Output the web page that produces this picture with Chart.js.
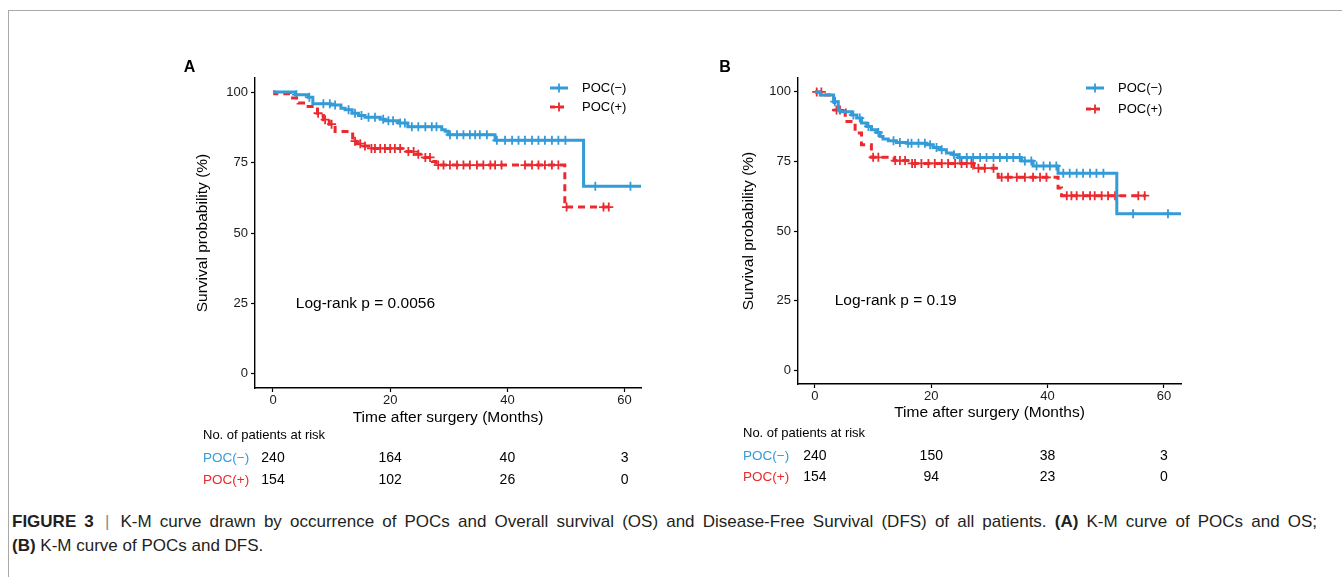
<!DOCTYPE html>
<html>
<head>
<meta charset="utf-8">
<script src="https://cdn.jsdelivr.net/npm/chart.js@4.4.0/dist/chart.umd.min.js"></script>
<style>
  html, body { margin: 0; padding: 0; background: #fff; }
  body { width: 1342px; height: 577px; position: relative; overflow: hidden; font-family: "Liberation Sans", Arial, sans-serif; }
  .frame { position: absolute; left: 8px; top: 10px; right: 0; bottom: 0; border-top: 1px solid #a9a9a9; border-left: 1px solid #a9a9a9; }
  .panel { position: absolute; top: 50px; width: 480px; height: 450px; }
  #pa { left: 170px; }
  #pb { left: 715px; }
  .caption { position: absolute; left: 12px; top: 510px; width: 1305px; font-size: 17px; line-height: 24px; color: #231f20; white-space: nowrap; }
  .caption .l1 { text-align: justify; text-align-last: justify; }
  .caption .bar { color: #8a8a8a; margin: 0 3px; }
</style>
</head>
<body>
<div class="frame"></div>
<div class="panel" id="pa"><canvas id="chartA" width="480" height="450"></canvas></div>
<div class="panel" id="pb"><canvas id="chartB" width="480" height="450"></canvas></div>
<div class="caption">
  <div class="l1"><b>FIGURE 3</b> <span class="bar">|</span> K-M curve drawn by occurrence of POCs and Overall survival (OS) and Disease-Free Survival (DFS) of all patients. <b>(A)</b> K-M curve of POCs and OS;</div>
  <div><b>(B)</b> K-M curve of POCs and DFS.</div>
</div>
<script>
// ---- data ----
const groupNames = ['POC(\u2212)', 'POC(+)'];
const xTicks = [0, 20, 40, 60];
const yTicks = [0, 25, 50, 75, 100];
const riskTimes = [0, 20, 40, 60];

// panel A: overall survival
const osNegTime = [0, 3.8, 6.0, 6.8, 9.8, 11.6, 12.3, 13.5, 14.6, 15.7, 18.3, 19.1, 21.4, 23.0, 28.8, 29.4, 29.9, 37.9, 53.0, 63];
const osNegSurv = [100, 99.1, 98.2, 95.9, 95.4, 94.3, 93.7, 92.5, 91.7, 91.1, 90.4, 89.8, 89.0, 87.7, 86.6, 86.1, 84.9, 82.9, 66.6, 66.6];
const osNegCensor = [4.0, 6.2, 8.6, 9.7, 10.6, 12.9, 14.0, 15.1, 16.3, 17.4, 18.8, 19.7, 20.5, 21.7, 22.5, 23.7, 24.8, 26.0, 27.1, 27.9, 30.2, 31.4, 32.5, 33.6, 34.5, 35.3, 36.5, 38.2, 39.6, 40.8, 41.9, 43.0, 44.2, 45.3, 46.4, 47.6, 48.7, 49.9, 55.0, 61.0];
const osPosTime = [0, 0.3, 2.9, 4.3, 6.0, 7.6, 8.0, 8.6, 9.6, 10.6, 13.6, 14.2, 15.5, 16.6, 22.4, 24.4, 25.8, 27.2, 27.8, 49.8, 57.3];
const osPosSurv = [100, 99.4, 97.9, 96.1, 94.9, 92.5, 91.7, 90.2, 88.6, 86.0, 82.6, 81.7, 80.9, 80.0, 78.9, 77.9, 76.8, 75.4, 74.1, 59.2, 59.2];
const osPosCensor = [7.7, 8.9, 10.0, 14.0, 14.9, 15.7, 16.8, 17.4, 18.3, 19.1, 20.0, 20.8, 21.7, 23.1, 24.0, 24.8, 26.0, 26.8, 28.2, 29.1, 30.2, 31.4, 32.5, 33.6, 34.8, 35.9, 37.1, 37.9, 39.0, 43.0, 44.2, 45.3, 46.4, 47.6, 48.7, 50.1, 56.4, 57.3];
const osRiskNeg = [240, 164, 40, 3];
const osRiskPos = [154, 102, 26, 0];
const osPText = 'Log-rank p = 0.0056';

// panel B: disease-free survival
const dfsNegTime = [0, 0.9, 3.2, 4.0, 4.3, 6.3, 7.2, 8.0, 8.9, 9.7, 10.6, 11.2, 11.7, 12.6, 14.0, 15.8, 19.2, 20.3, 21.5, 22.6, 23.8, 24.6, 35.5, 37.5, 41.8, 51.9, 63];
const dfsNegSurv = [100, 98.9, 96.5, 93.5, 92.9, 91.7, 90.6, 88.8, 87.6, 86.4, 85.4, 84.0, 83.1, 82.4, 81.8, 81.5, 81.0, 80.0, 79.2, 78.0, 77.4, 76.4, 75.2, 73.4, 70.8, 56.2, 56.2];
const dfsNegCensor = [3.4, 6.6, 7.7, 9.2, 10.9, 13.5, 14.6, 16.0, 16.6, 17.8, 18.9, 19.8, 20.9, 21.8, 23.9, 24.9, 26.1, 27.2, 28.4, 29.5, 30.7, 31.8, 33.0, 34.1, 35.2, 36.1, 37.2, 38.1, 39.3, 40.4, 41.5, 42.7, 43.8, 45.0, 46.1, 47.3, 48.4, 49.6, 54.7, 60.7];
const dfsPosTime = [0, 1.7, 3.3, 5.2, 6.9, 8.0, 9.7, 13.6, 16.5, 27.3, 31.5, 41.8, 42.4, 56.9];
const dfsPosSurv = [100, 98.9, 93.5, 89.4, 85.2, 81.0, 76.5, 75.3, 74.3, 72.6, 69.3, 65.5, 62.7, 62.7];
const dfsPosCensor = [0.3, 1.1, 3.7, 4.3, 10.0, 10.9, 13.8, 14.6, 15.5, 16.7, 17.2, 18.3, 19.5, 20.6, 21.8, 22.9, 24.1, 25.2, 26.1, 26.9, 28.1, 29.2, 30.7, 32.1, 33.2, 34.7, 36.1, 37.5, 38.7, 39.8, 43.3, 44.1, 45.0, 46.1, 47.3, 48.1, 49.3, 50.4, 51.6, 55.6, 56.7];
const dfsRiskNeg = [240, 150, 38, 3];
const dfsRiskPos = [154, 94, 23, 0];
const dfsPText = 'Log-rank p = 0.19';

const BLUE = '#349bd9';
const RED = '#ea2a2f';
const FONT = '"Liberation Sans", Arial, sans-serif';
Chart.defaults.font.family = FONT;
Chart.defaults.color = '#1a1a1a';

// value of the step curve at time t
function survAt(times, surv, t) {
  let v = surv[0];
  for (let i = 0; i < times.length; i++) {
    if (times[i] <= t) v = surv[i];
  }
  return v;
}

const kmExtras = {
  id: 'kmExtras',
  afterDraw(chart, args, o) {
    const { ctx, chartArea: ca, scales: { x, y } } = chart;
    ctx.save();
    ctx.fillStyle = '#000';
    ctx.textBaseline = 'middle';
    // panel letter
    ctx.font = 'bold 16px ' + FONT;
    ctx.textAlign = 'center';
    ctx.fillText(o.letter, ca.left + o.letterDx, ca.top + o.letterDy);
    // p value
    ctx.font = '15.5px ' + FONT;
    ctx.textAlign = 'left';
    ctx.fillText(o.pText, x.getPixelForValue(o.pAt[0]), y.getPixelForValue(o.pAt[1]));
    // legend
    const cols = [BLUE, RED], dashes = [[], [5, 4]];
    for (let i = 0; i < 2; i++) {
      const ly = ca.top + o.legendY[i];
      const lx = ca.right - o.legendDx;
      ctx.strokeStyle = cols[i];
      ctx.lineWidth = 3;
      ctx.setLineDash(dashes[i]);
      ctx.beginPath(); ctx.moveTo(lx - 9, ly); ctx.lineTo(lx + 9, ly); ctx.stroke();
      ctx.setLineDash([]);
      ctx.lineWidth = 1.8;
      ctx.beginPath(); ctx.moveTo(lx - 4.5, ly); ctx.lineTo(lx + 4.5, ly);
      ctx.moveTo(lx, ly - 4.5); ctx.lineTo(lx, ly + 4.5); ctx.stroke();
      ctx.fillStyle = '#000';
      ctx.font = '13px ' + FONT;
      ctx.fillText(groupNames[i], ca.right - o.legendTextDx, ly);
    }
    // risk table
    const rx = ca.left + o.riskDx;
    ctx.font = '13px ' + FONT;
    ctx.fillStyle = '#000';
    ctx.textAlign = 'left';
    ctx.fillText('No. of patients at risk', rx, ca.bottom + o.riskDy[0]);
    o.risk.forEach((row, i) => {
      const ry = ca.bottom + o.riskDy[i + 1];
      ctx.textAlign = 'left';
      ctx.fillStyle = cols[i];
      ctx.font = '13.5px ' + FONT;
      ctx.fillText(groupNames[i], rx, ry);
      ctx.fillStyle = '#000';
      ctx.font = '14px ' + FONT;
      ctx.textAlign = 'center';
      row.forEach((n, j) => ctx.fillText(String(n), x.getPixelForValue(riskTimes[j]), ry));
    });
    ctx.restore();
  }
};

function makeKM(id, c) {
  const line = (t, s) => t.map((v, i) => ({ x: v, y: s[i] }));
  const marks = (t, s, cen) => cen.map(v => ({ x: v, y: survAt(t, s, v) }));
  return new Chart(document.getElementById(id), {
    type: 'line',
    data: {
      datasets: [
        { data: line(c.negT, c.negS), borderColor: BLUE, borderWidth: 3, stepped: 'before', pointRadius: 0, fill: false },
        { data: line(c.posT, c.posS), borderColor: RED, borderWidth: 3, borderDash: [7, 5], stepped: 'before', pointRadius: 0, fill: false },
        { data: marks(c.negT, c.negS, c.negC), showLine: false, pointStyle: 'cross', pointRadius: 4.5, pointBorderWidth: 1.8, pointBorderColor: BLUE, borderColor: BLUE },
        { data: marks(c.posT, c.posS, c.posC), showLine: false, pointStyle: 'cross', pointRadius: 4.5, pointBorderWidth: 1.8, pointBorderColor: RED, borderColor: RED }
      ]
    },
    options: {
      responsive: false,
      animation: false,
      events: [],
      layout: { padding: { left: 0, top: 28, right: c.padRight, bottom: c.padBottom } },
      plugins: {
        legend: { display: false },
        tooltip: { enabled: false },
        kmExtras: c.extras
      },
      scales: {
        x: {
          type: 'linear', min: c.xMin, max: c.xMax,
          afterBuildTicks: s => { s.ticks = xTicks.map(v => ({ value: v })); },
          afterFit: s => { s.height = 50; },
          grid: { display: true, drawOnChartArea: false, drawTicks: true, tickLength: 4, tickColor: '#000', tickWidth: 1.2 },
          border: { display: true, color: '#000', width: 1.4 },
          ticks: { font: { size: 13, lineHeight: 1 }, padding: 2, color: '#1a1a1a', maxRotation: 0 },
          title: { display: true, text: 'Time after surgery (Months)', font: { size: 15.5, lineHeight: 1.2 }, color: '#000', padding: { top: 0, bottom: c.xTitlePad } }
        },
        y: {
          type: 'linear', min: -5, max: 105,
          afterBuildTicks: s => { s.ticks = yTicks.map(v => ({ value: v })); },
          afterFit: s => { s.width = c.yAxisW; },
          grid: { display: true, drawOnChartArea: false, drawTicks: true, tickLength: 4, tickColor: '#000', tickWidth: 1.2 },
          border: { display: true, color: '#000', width: 1.4 },
          ticks: { font: { size: 13 }, padding: 3, color: '#1a1a1a' },
          title: { display: true, text: 'Survival probability (%)', font: { size: 15.5, lineHeight: 1.2 }, color: '#000', padding: { top: c.yTitlePad, bottom: 0 } }
        }
      }
    },
    plugins: [kmExtras]
  });
}

makeKM('chartA', {
  negT: osNegTime, negS: osNegSurv, negC: osNegCensor,
  posT: osPosTime, posS: osPosSurv, posC: osPosCensor,
  xMin: -3.07, xMax: 62.8, yAxisW: 85, padRight: 9, padBottom: 62, xTitlePad: 10.7, yTitlePad: 23.7,
  extras: {
    letter: 'A', letterDx: -65.5, letterDy: -10.5,
    pText: osPText, pAt: [3.9, 25],
    legendDx: 82, legendTextDx: 59, legendY: [10, 29],
    riskDx: -52, riskDy: [47, 70, 92],
    risk: [osRiskNeg, osRiskPos]
  }
});

makeKM('chartB', {
  negT: dfsNegTime, negS: dfsNegSurv, negC: dfsNegCensor,
  posT: dfsPosTime, posS: dfsPosSurv, posC: dfsPosCensor,
  xMin: -2.92, xMax: 62.94, yAxisW: 83, padRight: 14, padBottom: 66, xTitlePad: 11.7, yTitlePad: 24.7,
  extras: {
    letter: 'B', letterDx: -73, letterDy: -10.5,
    pText: dfsPText, pAt: [3.4, 25],
    legendDx: 86, legendTextDx: 63, legendY: [10, 31],
    riskDx: -55, riskDy: [49, 72, 93],
    risk: [dfsRiskNeg, dfsRiskPos]
  }
});
</script>
</body>
</html>
